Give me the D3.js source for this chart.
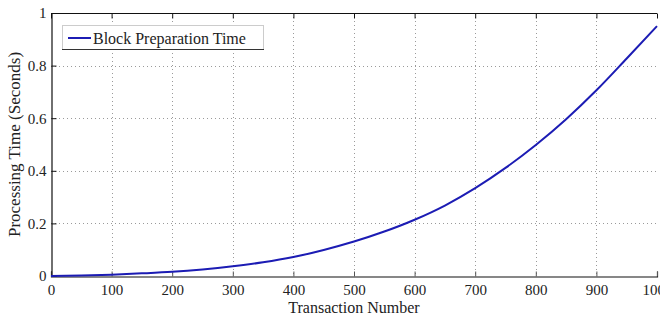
<html>
  <head>
    <script src="https://cdnjs.cloudflare.com/ajax/libs/d3/7.8.5/d3.min.js"></script>
    <style>
      body { margin: 0; background: #fff; }
      svg { display: block; }
      text { font-family: "Liberation Serif", "DejaVu Serif", serif; fill: #222; }
    </style>
  </head>
  <body>
    <svg width="660" height="314"></svg>
    <script>
      // transaction count vs. block preparation time (s)
      const transactions = [0, 50, 100, 150, 200, 250, 300, 350, 400, 450, 500,
                            550, 600, 650, 700, 750, 800, 850, 900, 950, 1000];
      const prepTime = [0, 0.002, 0.005, 0.010, 0.016, 0.025, 0.037, 0.052, 0.072, 0.099, 0.131,
                        0.169, 0.214, 0.268, 0.334, 0.411, 0.498, 0.596, 0.706, 0.827, 0.950];
      const xTicks = [0, 100, 200, 300, 400, 500, 600, 700, 800, 900, 1000];
      const yTicks = [0, 0.2, 0.4, 0.6, 0.8, 1];

      const svg = d3.select("svg");
      const plotLeft = 51, plotRight = 657, plotTop = 13, plotBottom = 276;

      const x = d3.scaleLinear().domain([0, 1000]).range([plotLeft, plotRight]);
      const y = d3.scaleLinear().domain([0, 1]).range([plotBottom, plotTop]);

      // dotted grid
      const grid = svg.append("g")
        .attr("stroke", "#9a9a9a")
        .attr("stroke-width", 1)
        .attr("stroke-dasharray", "1,3");
      grid.selectAll(".gx").data(xTicks.slice(1, -1)).join("line")
        .attr("x1", d => Math.round(x(d)) + 0.5).attr("x2", d => Math.round(x(d)) + 0.5)
        .attr("y1", plotTop).attr("y2", plotBottom);
      grid.selectAll(".gy").data(yTicks.slice(1, -1)).join("line")
        .attr("y1", d => Math.round(y(d)) + 0.5).attr("y2", d => Math.round(y(d)) + 0.5)
        .attr("x1", plotLeft).attr("x2", plotRight);

      // axes with inward ticks
      const xAxis = svg.append("g")
        .attr("transform", `translate(0,${plotBottom + 0.5})`)
        .call(d3.axisBottom(x).tickValues(xTicks).tickSize(-5).tickPadding(8).tickFormat(d3.format("d")));
      const xTop = svg.append("g")
        .attr("transform", `translate(0,${plotTop + 0.5})`)
        .call(d3.axisTop(x).tickValues(xTicks).tickSize(-5).tickFormat(""));
      const yAxis = svg.append("g")
        .attr("transform", `translate(${plotLeft + 0.5},0)`)
        .call(d3.axisLeft(y).tickValues(yTicks).tickSize(-5).tickPadding(5)
          .tickFormat(d => d === 0 || d === 1 ? d3.format("d")(d) : d3.format(".1f")(d)));

      [xAxis, xTop, yAxis].forEach(g => {
        g.select(".domain").attr("stroke", "#111").attr("stroke-width", 1.2);
        g.selectAll(".tick line").attr("stroke", "#111");
        g.selectAll("text").attr("font-size", 15).attr("font-family", "Liberation Serif").attr("fill", "#222");
      });
      xAxis.selectAll(".tick line").attr("stroke", "#555");
      xTop.select(".domain").attr("d", `M${plotLeft},0H${plotRight}`);

      // curve
      const line = d3.line().x((d, i) => x(transactions[i])).y(d => y(d)).curve(d3.curveMonotoneX);
      svg.append("path").datum(prepTime)
        .attr("fill", "none")
        .attr("stroke", "#1c1cb4")
        .attr("stroke-width", 2)
        .attr("d", line);

      // legend
      const legend = svg.append("g");
      legend.append("rect")
        .attr("x", 62.5).attr("y", 25.5).attr("width", 201).attr("height", 24)
        .attr("fill", "#fff").attr("stroke", "#ccc");
      legend.append("line").attr("x1", 62).attr("x2", 264).attr("y1", 49.5).attr("y2", 49.5)
        .attr("stroke", "#333");
      legend.append("line").attr("x1", 68).attr("x2", 91).attr("y1", 38).attr("y2", 38)
        .attr("stroke", "#1c1cb4").attr("stroke-width", 2);
      legend.append("text").attr("x", 93).attr("y", 43.5)
        .attr("font-size", 16).text("Block Preparation Time");

      // axis titles
      svg.append("text")
        .attr("x", (plotLeft + plotRight) / 2).attr("y", 313)
        .attr("text-anchor", "middle").attr("font-size", 16)
        .text("Transaction Number");
      svg.append("text")
        .attr("transform", `translate(20,${(plotTop + plotBottom) / 2}) rotate(-90)`)
        .attr("text-anchor", "middle").attr("font-size", 17)
        .text("Processing Time (Seconds)");
    </script>
  </body>
</html>
